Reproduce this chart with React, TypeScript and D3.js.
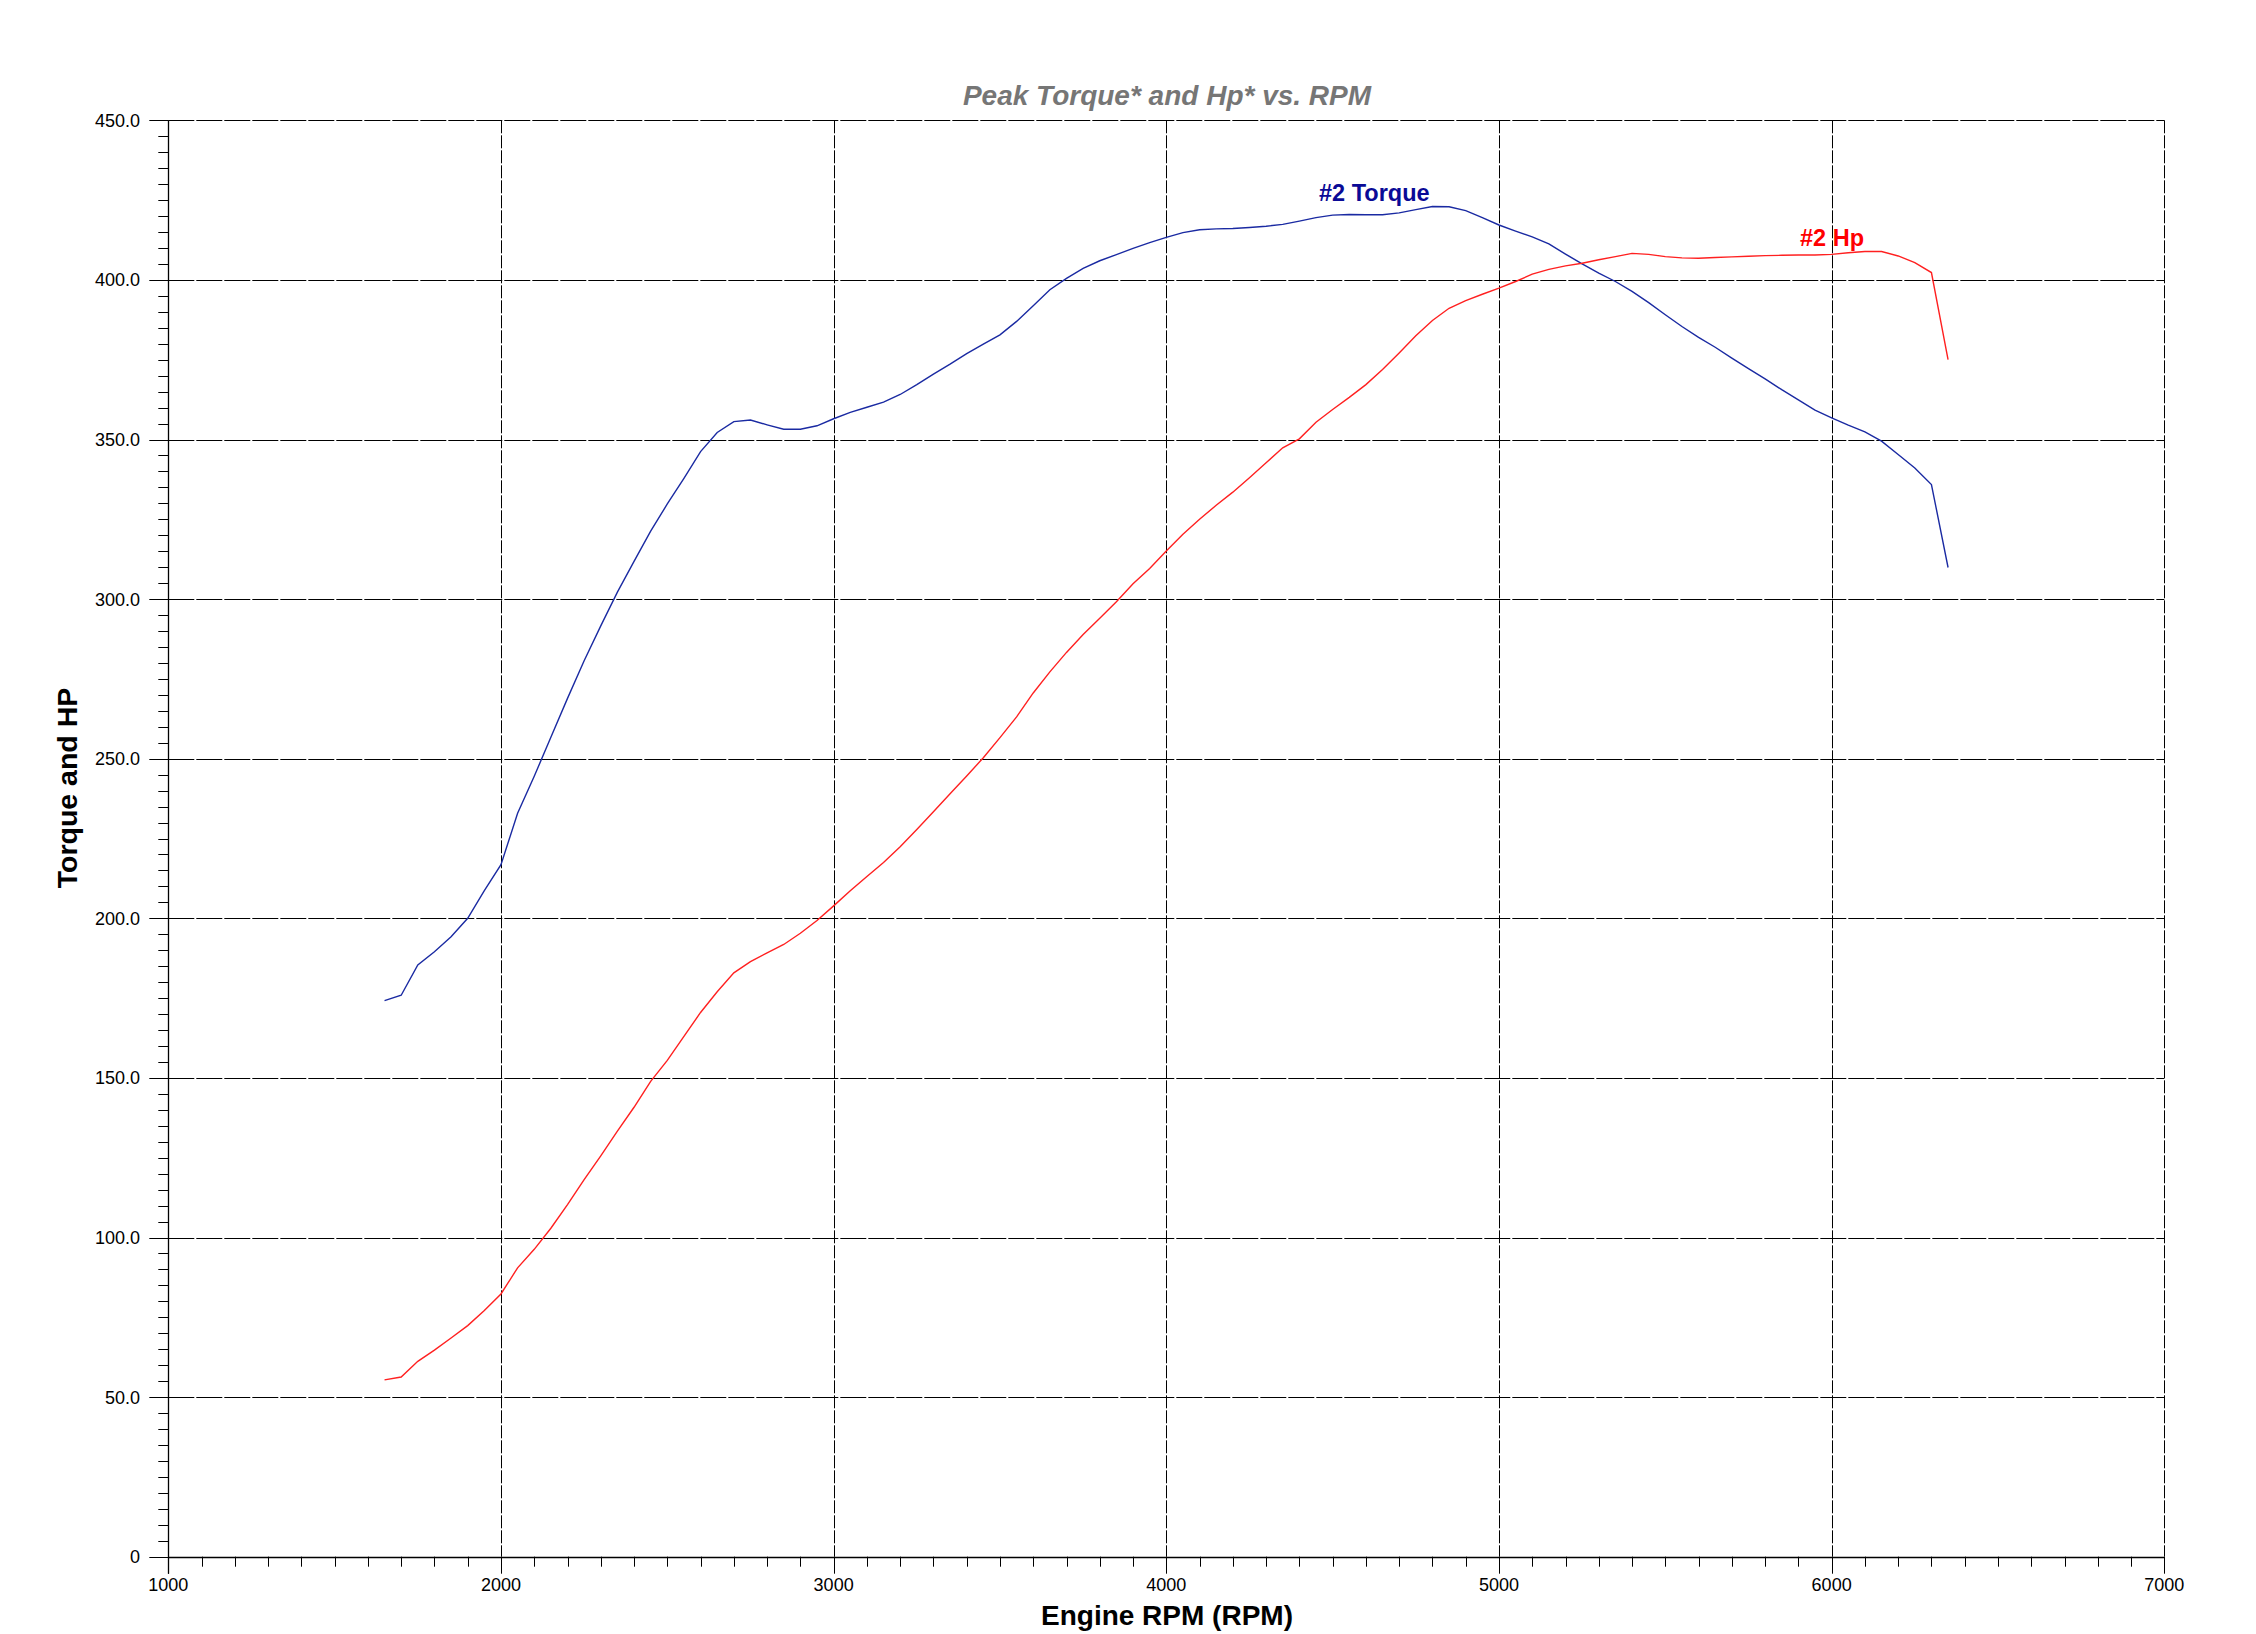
import React from "react";
import * as d3 from "d3";

const rpm = [
  1650, 1700, 1750, 1800, 1850, 1900, 1950, 2000, 2050, 2100, 2150, 2200, 2250, 2300, 2350, 2400,
  2450, 2500, 2550, 2600, 2650, 2700, 2750, 2800, 2850, 2900, 2950, 3000, 3050, 3100, 3150, 3200,
  3250, 3300, 3350, 3400, 3450, 3500, 3550, 3600, 3650, 3700, 3750, 3800, 3850, 3900, 3950, 4000,
  4050, 4100, 4150, 4200, 4250, 4300, 4350, 4400, 4450, 4500, 4550, 4600, 4650, 4700, 4750, 4800,
  4850, 4900, 4950, 5000, 5050, 5100, 5150, 5200, 5250, 5300, 5350, 5400, 5450, 5500, 5550, 5600,
  5650, 5700, 5750, 5800, 5850, 5900, 5950, 6000, 6050, 6100, 6150, 6200, 6250, 6300, 6350,
];

const torque = [
  174.2, 175.9, 185.4, 189.5, 194.2, 200.0, 208.7, 216.8, 232.9, 244.5, 256.7, 268.9, 280.7, 291.6, 302.2, 311.8,
  321.3, 329.8, 337.8, 346.2, 352.2, 355.6, 356.1, 354.6, 353.2, 353.2, 354.3, 356.5, 358.5, 360.1, 361.7, 364.1,
  367.2, 370.5, 373.6, 376.9, 379.9, 382.8, 387.0, 391.9, 396.9, 400.5, 403.6, 406.0, 407.9, 409.9, 411.7, 413.3,
  414.8, 415.7, 416.0, 416.1, 416.4, 416.8, 417.4, 418.4, 419.5, 420.3, 420.5, 420.4, 420.4, 421.0, 422.0, 423.0,
  422.9, 421.7, 419.5, 417.2, 415.3, 413.5, 411.3, 408.1, 405.0, 402.1, 399.5, 396.4, 392.9, 389.1, 385.4, 382.0,
  378.9, 375.5, 372.2, 369.0, 365.6, 362.4, 359.2, 356.8, 354.5, 352.4, 349.5, 345.3, 341.1, 335.9, 309.9,
];

const hp = [
  55.4, 56.3, 61.2, 64.7, 68.5, 72.4, 77.1, 82.3, 90.5, 96.3, 102.9, 110.3, 118.1, 125.6, 133.3, 140.8,
  148.9, 155.5, 163.0, 170.5, 177.0, 182.9, 186.4, 189.2, 191.8, 195.3, 199.3, 203.9, 208.6, 213.1, 217.5, 222.4,
  227.8, 233.4, 239.0, 244.6, 250.3, 256.6, 263.1, 270.6, 277.2, 283.3, 288.9, 294.0, 299.2, 304.8, 309.6, 315.1,
  320.3, 325.0, 329.4, 333.5, 338.0, 342.7, 347.4, 350.2, 355.4, 359.4, 363.2, 367.2, 371.9, 377.1, 382.5, 387.3,
  391.1, 393.5, 395.5, 397.4, 399.5, 401.8, 403.3, 404.4, 405.2, 406.3, 407.3, 408.3, 408.0, 407.3, 406.9, 406.8,
  407.0, 407.2, 407.4, 407.6, 407.7, 407.8, 407.8, 408.0, 408.5, 408.9, 408.9, 407.5, 405.4, 402.3, 375.0,
];

const xTicks = [1000, 2000, 3000, 4000, 5000, 6000, 7000];
const yTicks = [0, 50, 100, 150, 200, 250, 300, 350, 400, 450];
const yTickLabels = ["0", "50.0", "100.0", "150.0", "200.0", "250.0", "300.0", "350.0", "400.0", "450.0"];

const title = "Peak Torque* and Hp* vs. RPM";
const xTitle = "Engine RPM (RPM)";
const yTitle = "Torque and HP";
const torqueLabel = "#2 Torque";
const hpLabel = "#2 Hp";

const W = 2256;
const H = 1634;
const L = 168.3;
const R = 2164.3;
const T = 120.3;
const B = 1556.7;
const FONT = "'Liberation Sans', Arial, sans-serif";

export default function App() {
  const x = d3.scaleLinear().domain([1000, 7000]).range([L, R]);
  const y = d3.scaleLinear().domain([0, 450]).range([B, T]);

  const minorX = d3.range(1000, 7001, 100);
  const minorY = d3.range(0, 451, 5);

  const torquePts: [number, number][] = rpm.map((r, i) => [r, torque[i]]);
  const hpPts: [number, number][] = rpm.map((r, i) => [r, hp[i]]);
  const line = d3
    .line<[number, number]>()
    .x((d) => x(d[0]))
    .y((d) => y(d[1]));

  return (
    <svg
      width={W}
      height={H}
      viewBox={`0 0 ${W} ${H}`}
      style={{ position: "absolute", left: 0, top: 0, background: "#fff" }}
    >
      <rect x={0} y={0} width={W} height={H} fill="#fff" />
      {/* grid */}
      {yTicks.filter((v) => v > 0).map((v) => (
        <line
          key={"gy" + v}
          x1={L}
          x2={R}
          y1={Math.round(y(v)) + 0.5}
          y2={Math.round(y(v)) + 0.5}
          stroke="#000"
          strokeWidth={1}
          strokeDasharray="26,2"
        />
      ))}
      {xTicks.filter((v) => v > 1000).map((v) => (
        <line
          key={"gx" + v}
          x1={Math.round(x(v)) + 0.5}
          x2={Math.round(x(v)) + 0.5}
          y1={T}
          y2={B}
          stroke="#000"
          strokeWidth={1}
          strokeDasharray="13,2"
        />
      ))}
      {/* axes */}
      <line x1={Math.round(L) + 0.5} x2={Math.round(L) + 0.5} y1={T} y2={B + 17} stroke="#000" strokeWidth={1.3} />
      <line x1={L} x2={R} y1={Math.round(B) + 0.5} y2={Math.round(B) + 0.5} stroke="#000" strokeWidth={1.3} />
      {minorY.map((v) => (
        <line
          key={"ty" + v}
          x1={L - (v % 50 === 0 ? 19 : 10)}
          x2={L}
          y1={Math.round(y(v)) + 0.5}
          y2={Math.round(y(v)) + 0.5}
          stroke="#000"
          strokeWidth={1}
        />
      ))}
      {minorX.map((v) => (
        <line
          key={"tx" + v}
          x1={Math.round(x(v)) + 0.5}
          x2={Math.round(x(v)) + 0.5}
          y1={B}
          y2={B + (v % 1000 === 0 ? 17 : 10)}
          stroke="#000"
          strokeWidth={1}
        />
      ))}
      {yTicks.map((v, i) => (
        <text
          key={"ly" + v}
          x={140}
          y={y(v)}
          dy="0.36em"
          textAnchor="end"
          fontFamily={FONT}
          fontSize={18}
          fill="#000"
        >
          {yTickLabels[i]}
        </text>
      ))}
      {xTicks.map((v) => (
        <text
          key={"lx" + v}
          x={x(v)}
          y={1591}
          textAnchor="middle"
          fontFamily={FONT}
          fontSize={18}
          fill="#000"
        >
          {v}
        </text>
      ))}
      {/* series */}
      <path d={line(torquePts) || ""} fill="none" stroke="#1a2aa2" strokeWidth={1.4} />
      <path d={line(hpPts) || ""} fill="none" stroke="#ff2020" strokeWidth={1.4} />
      <text x={1319} y={201} fontFamily={FONT} fontSize={23.5} fontWeight="bold" fill="#0a0a96">
        {torqueLabel}
      </text>
      <text x={1800} y={246} fontFamily={FONT} fontSize={23.5} fontWeight="bold" fill="#ff0000">
        {hpLabel}
      </text>
      {/* titles */}
      <text
        x={1167}
        y={105}
        textAnchor="middle"
        fontFamily={FONT}
        fontSize={28}
        fontWeight="bold"
        fontStyle="italic"
        fill="#767676"
      >
        {title}
      </text>
      <text
        x={1167}
        y={1625}
        textAnchor="middle"
        fontFamily={FONT}
        fontSize={28}
        fontWeight="bold"
        fill="#000"
      >
        {xTitle}
      </text>
      <text
        transform={`translate(77,788) rotate(-90)`}
        textAnchor="middle"
        fontFamily={FONT}
        fontSize={28.5}
        fontWeight="bold"
        fill="#000"
      >
        {yTitle}
      </text>
    </svg>
  );
}
